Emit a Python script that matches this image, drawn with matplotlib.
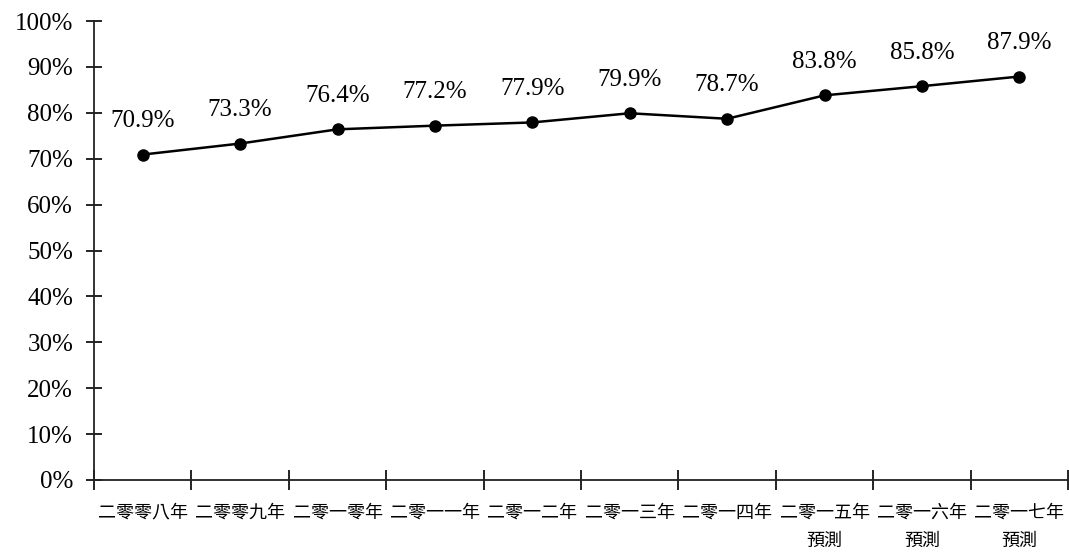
import numpy as np
import matplotlib.pyplot as plt
from matplotlib.ticker import FuncFormatter

years = ['二零零八年', '二零零九年', '二零一零年', '二零一一年', '二零一二年',
         '二零一三年', '二零一四年', '二零一五年\n預測', '二零一六年\n預測', '二零一七年\n預測']
rates = [70.9, 73.3, 76.4, 77.2, 77.9, 79.9, 78.7, 83.8, 85.8, 87.9]

plt.rcParams['font.family'] = ['Liberation Serif', 'Noto Sans CJK TC', 'DejaVu Sans']

fig = plt.figure(figsize=(10.69, 5.6), dpi=100)
ax = fig.add_axes([94/1069, 1 - 480/560, 974/1069, 459/560])

x = np.arange(len(years))
ax.plot(x, rates, c='k', lw=1.8, marker='o', ms=8)
for xi, r in zip(x, rates):
    ax.annotate(f'{r:.1f}%', (xi, r), xytext=(0, 24), textcoords='offset points',
                ha='center', va='center', fontsize=18)

ax.set_xlim(-0.5, len(years) - 0.5)
ax.set_ylim(0, 100)
ax.set_yticks(np.arange(0, 101, 10))
ax.yaxis.set_major_formatter(FuncFormatter(lambda v, p: f'{v:.0f}%'))
ax.tick_params(axis='y', direction='inout', length=12, width=1.2, labelsize=18, pad=9)

ax.set_xticks(np.arange(-0.5, len(years), 1))
ax.set_xticklabels([])
ax.set_xticks(x, minor=True)
ax.set_xticklabels(years, minor=True, fontsize=13, family=['Noto Sans CJK TC'], linespacing=1.75)
ax.tick_params(axis='x', which='major', direction='inout', length=15, width=1.2)
ax.tick_params(axis='x', which='minor', length=0, pad=17)

for s in ['top', 'right']:
    ax.spines[s].set_visible(False)
for s in ['left', 'bottom']:
    ax.spines[s].set_linewidth(1.3)
    ax.spines[s].set_color('#222222')

plt.savefig('out.png', dpi=100)
